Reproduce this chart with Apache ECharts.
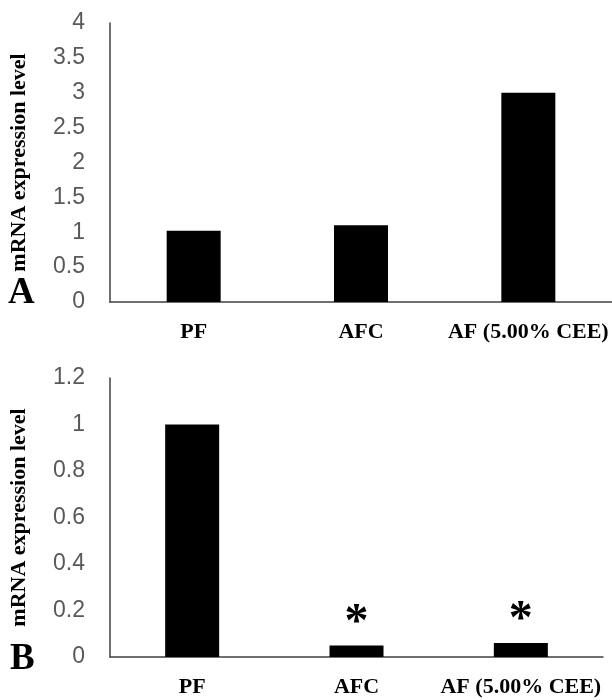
<!DOCTYPE html>
<html>
<head>
<meta charset="utf-8">
<script src="https://cdn.jsdelivr.net/npm/echarts@6/dist/echarts.min.js"></script>
<style>
  html, body { margin: 0; padding: 0; background: #fff; }
  #chart { width: 612px; height: 700px; }
</style>
</head>
<body>
<div id="chart"></div>
<script>
  // groups on the x axis (same for both panels)
  const groups = ['PF', 'AFC', 'AF (5.00% CEE)']
  // panel A values
  const valuesA = [1.02, 1.1, 3.0]
  // panel B values
  const valuesB = [1.0, 0.05, 0.06]
  // significance marks above the bars of panel B
  const marksB = ['', '*', '*']

  const serif = 'Liberation Serif'
  const tickColor = '#595959'
  const lineColor = '#404040'

  const chart = echarts.init(document.getElementById('chart'))

  const catAxis = (grid) => ({
    type: 'category',
    gridIndex: grid,
    data: groups,
    axisLine: { lineStyle: { color: lineColor, width: 1.5 } },
    axisTick: { show: false },
    axisLabel: {
      interval: 0,
      margin: 19,
      fontFamily: serif,
      fontWeight: 'bold',
      fontSize: 22,
      color: '#000'
    }
  })

  const valAxis = (grid, max, step) => ({
    type: 'value',
    gridIndex: grid,
    min: 0,
    max: max,
    interval: step,
    name: 'mRNA expression level',
    nameLocation: 'middle',
    nameRotate: 90,
    nameGap: 80,
    nameTextStyle: {
      fontFamily: serif,
      fontWeight: 'bold',
      fontSize: 22,
      color: '#000'
    },
    axisLine: { show: true, lineStyle: { color: lineColor, width: 1.5 } },
    axisTick: { show: false },
    splitLine: { show: false },
    axisLabel: {
      margin: 25,
      fontFamily: 'Liberation Sans',
      fontSize: 23,
      color: tickColor
    }
  })

  chart.setOption({
    backgroundColor: '#fff',
    animation: false,
    graphic: [
      {
        type: 'text',
        left: 8,
        top: 275,
        style: { text: 'A', font: 'bold 37px "Liberation Serif"', fill: '#000' }
      },
      {
        type: 'text',
        left: 10,
        top: 641,
        style: { text: 'B', font: 'bold 37px "Liberation Serif"', fill: '#000' }
      }
    ],
    grid: [
      { left: 102, top: 23, width: 510, height: 279 },
      { left: 102, top: 378, width: 501, height: 279 }
    ],
    xAxis: [catAxis(0), catAxis(1)],
    yAxis: [valAxis(0, 4, 0.5), valAxis(1, 1.2, 0.2)],
    series: [
      {
        type: 'bar',
        xAxisIndex: 0,
        yAxisIndex: 0,
        data: valuesA,
        barWidth: 54,
        itemStyle: { color: '#000' }
      },
      {
        type: 'bar',
        xAxisIndex: 1,
        yAxisIndex: 1,
        data: valuesB,
        barWidth: 54,
        itemStyle: { color: '#000' },
        label: {
          show: true,
          position: 'top',
          distance: -2,
          formatter: p => marksB[p.dataIndex],
          fontFamily: serif,
          fontWeight: 'bold',
          fontSize: 48,
          color: '#000'
        }
      }
    ]
  })
</script>
</body>
</html>
